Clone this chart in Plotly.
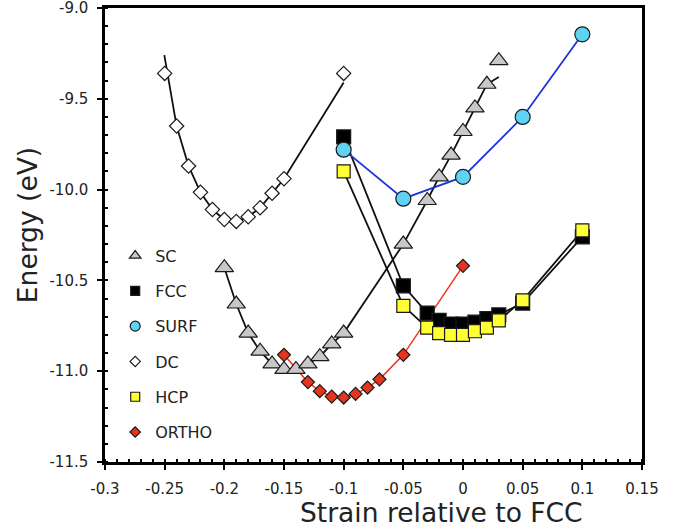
import plotly.graph_objects as go

# ---------------- data ----------------
sc_x = [-0.20, -0.19, -0.18, -0.17, -0.16, -0.15, -0.14, -0.13, -0.12, -0.11, -0.10,
        -0.05, -0.03, -0.02, -0.01, 0.00, 0.01, 0.02, 0.03]
sc_y = [-10.43, -10.63, -10.79, -10.89, -10.96, -10.99, -10.99, -10.96, -10.92, -10.85, -10.79,
        -10.30, -10.06, -9.93, -9.81, -9.68, -9.55, -9.42, -9.29]
sc_fit_x = [-0.20, -0.19, -0.18, -0.17, -0.16, -0.15, -0.14, -0.13, -0.12, -0.11, -0.10,
            -0.05, -0.03, -0.02, -0.01, 0.00, 0.01, 0.02, 0.03]
sc_fit_y = [-10.43, -10.63, -10.79, -10.89, -10.96, -10.99, -10.99, -10.96, -10.92, -10.85, -10.79,
            -10.30, -10.06, -9.93, -9.81, -9.68, -9.55, -9.42, -9.38]

fcc_x = [-0.10, -0.05, -0.03, -0.02, -0.01, 0.00, 0.01, 0.02, 0.03, 0.05, 0.10]
fcc_y = [-9.71, -10.53, -10.68, -10.72, -10.74, -10.74, -10.73, -10.71, -10.69, -10.625, -10.26]

surf_x = [-0.10, -0.05, 0.00, 0.05, 0.10]
surf_y = [-9.78, -10.05, -9.93, -9.60, -9.145]

dc_x = [-0.25, -0.24, -0.23, -0.22, -0.21, -0.20, -0.19, -0.18, -0.17, -0.16, -0.15, -0.10]
dc_y = [-9.36, -9.65, -9.87, -10.015, -10.11, -10.165, -10.175, -10.15, -10.10, -10.02, -9.94, -9.36]
dc_fit_x = [-0.2503, -0.24, -0.23, -0.22, -0.21, -0.20, -0.19, -0.18, -0.17, -0.16, -0.15, -0.10]
dc_fit_y = [-9.26, -9.65, -9.87, -10.015, -10.11, -10.165, -10.175, -10.15, -10.10, -10.02, -9.94, -9.41]

hcp_x = [-0.10, -0.05, -0.03, -0.02, -0.01, 0.00, 0.01, 0.02, 0.03, 0.05, 0.10]
hcp_y = [-9.90, -10.64, -10.76, -10.79, -10.80, -10.80, -10.78, -10.76, -10.72, -10.61, -10.225]

ortho_x = [-0.15, -0.13, -0.12, -0.11, -0.10, -0.09, -0.08, -0.07, -0.05, 0.00]
ortho_y = [-10.91, -11.06, -11.11, -11.14, -11.145, -11.125, -11.09, -11.045, -10.91, -10.42]

x_tickvals = [-0.3, -0.25, -0.2, -0.15, -0.1, -0.05, 0.0, 0.05, 0.1, 0.15]
x_ticktext = ["-0.3", "-0.25", "-0.2", "-0.15", "-0.1", "-0.05", "0", "0.05", "0.1", "0.15"]
y_tickvals = [-11.5, -11.0, -10.5, -10.0, -9.5, -9.0]
y_ticktext = ["-11.5", "-11.0", "-10.5", "-10.0", "-9.5", "-9.0"]

series_names = ["SC", "FCC", "SURF", "DC", "HCP", "ORTHO"]

# ---------------- styles ----------------
FONT = "DejaVu Sans, Verdana, sans-serif"
OUT = "#1a1a1a"
styles = {
    "SC": dict(symbol="triangle-up", color="#c8c8c8", size=16, lsize=10),
    "FCC": dict(symbol="square", color="#000000", size=14, lsize=9),
    "SURF": dict(symbol="circle", color="#5fd3f3", size=15, lsize=10),
    "DC": dict(symbol="diamond", color="#ffffff", size=11, lsize=8),
    "HCP": dict(symbol="square", color="#ffff33", size=13, lsize=9),
    "ORTHO": dict(symbol="diamond", color="#e8341c", size=10, lsize=8),
}

fig = go.Figure()

# ---------------- lines (drawn underneath) ----------------
line_sets = [
    (dc_fit_x, dc_fit_y, "#111111", 1.8),
    (sc_fit_x, sc_fit_y, "#111111", 1.8),
    (fcc_x, fcc_y, "#111111", 1.8),
    (hcp_x, hcp_y, "#111111", 1.8),
    (surf_x, surf_y, "#1c34d8", 1.8),
    (ortho_x, ortho_y, "#f0351c", 1.5),
]
for lx, ly, lc, lw in line_sets:
    fig.add_trace(go.Scatter(x=lx, y=ly, mode="lines", line=dict(color=lc, width=lw),
                             showlegend=False, hoverinfo="skip", cliponaxis=False))

# ---------------- markers ----------------
marker_data = {
    "SC": (sc_x, sc_y),
    "FCC": (fcc_x, fcc_y),
    "SURF": (surf_x, surf_y),
    "DC": (dc_x, dc_y),
    "HCP": (hcp_x, hcp_y),
    "ORTHO": (ortho_x, ortho_y),
}
for name in series_names:
    mx, my = marker_data[name]
    st = styles[name]
    fig.add_trace(go.Scatter(
        x=mx, y=my, mode="markers", name=name, showlegend=False, cliponaxis=False,
        marker=dict(symbol=st["symbol"], color=st["color"], size=st["size"],
                    line=dict(color=OUT, width=1.2))))

# legend entries (smaller symbols, as in the reference legend)
for name in series_names:
    st = styles[name]
    fig.add_trace(go.Scatter(
        x=[None], y=[None], mode="markers", name=name, legendgroup=name,
        marker=dict(symbol=st["symbol"], color=st["color"], size=st["lsize"],
                    line=dict(color=OUT, width=1.2))))

axis_common = dict(showgrid=False, zeroline=False, showline=True, linecolor="black",
                   linewidth=2.5, mirror=True, ticks="outside", ticklen=5, tickwidth=2,
                   tickcolor="black", automargin=False, ticklabeloverflow="allow",
                   tickfont=dict(family=FONT, size=15, color="#222222"))

fig.update_layout(
    width=676, height=528,
    margin=dict(l=105, r=34, t=8, b=66, autoexpand=False),
    paper_bgcolor="white", plot_bgcolor="white",
    font=dict(family=FONT, color="#222222"),
    xaxis=dict(range=[-0.3, 0.15], tickmode="array", tickvals=x_tickvals, ticktext=x_ticktext,
               minor=dict(tickmode="linear", tick0=-0.3, dtick=0.01, ticks="inside",
                          ticklen=3, tickwidth=1.5, tickcolor="black"),
               ticklabelstandoff=6, **axis_common),
    yaxis=dict(range=[-11.5, -9.0], tickmode="array", tickvals=y_tickvals, ticktext=y_ticktext,
               minor=dict(tickmode="linear", tick0=-11.5, dtick=0.1, ticks="inside",
                          ticklen=3, tickwidth=1.5, tickcolor="black"),
               ticklabelstandoff=6, **axis_common),
    xaxis2=dict(range=[-0.3, 0.15], overlaying="x", anchor="y", side="bottom",
                tickmode="array", tickvals=x_tickvals, ticks="inside", ticklen=5, tickwidth=2,
                tickcolor="black", showticklabels=False, showline=False, showgrid=False,
                zeroline=False, automargin=False),
    yaxis2=dict(range=[-11.5, -9.0], overlaying="y", anchor="x", side="left",
                tickmode="array", tickvals=y_tickvals, ticks="inside", ticklen=5, tickwidth=2,
                tickcolor="black", showticklabels=False, showline=False, showgrid=False,
                zeroline=False, automargin=False),
    legend=dict(x=0.019, y=0.492, xanchor="left", yanchor="top", bgcolor="rgba(0,0,0,0)",
                font=dict(family=FONT, size=16, color="#222222"), tracegroupgap=11.5,
                itemwidth=30),
    annotations=[
        dict(text="Strain relative to FCC", xref="paper", yref="paper", x=0.626, y=-0.111,
             xanchor="center", yanchor="middle", showarrow=False,
             font=dict(family=FONT, size=26.5, color="#222222")),
        dict(text="Energy (eV)", xref="paper", yref="paper", x=-0.145, y=0.522,
             xanchor="center", yanchor="middle", showarrow=False, textangle=-90,
             font=dict(family=FONT, size=26.5, color="#222222")),
    ],
)

fig.write_html("out.html", config={"displayModeBar": False},
               post_script="document.body.style.margin='0';document.body.style.overflow='hidden';")
